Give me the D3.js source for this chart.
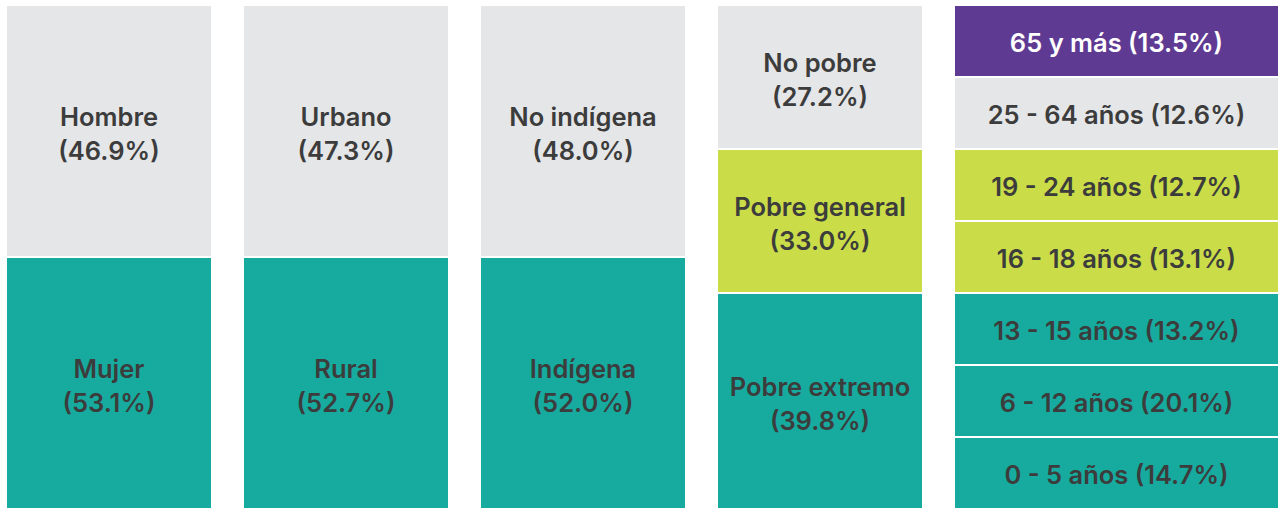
<!DOCTYPE html>
<html>
<head>
<meta charset="utf-8">
<script src="https://cdn.jsdelivr.net/npm/d3@7"></script>
<style>
  html, body { margin: 0; padding: 0; background: #fff; }
  svg { display: block; }
</style>
</head>
<body>
<div id="chart"></div>
<script>
// Data (each column listed top to bottom; rows = share of the 7-row grid the block takes)
const sexo = [
  { label: "Hombre", value: 46.9, tier: "alto", rows: 3.5 },
  { label: "Mujer", value: 53.1, tier: "bajo", rows: 3.5 }
];
const area = [
  { label: "Urbano", value: 47.3, tier: "alto", rows: 3.5 },
  { label: "Rural", value: 52.7, tier: "bajo", rows: 3.5 }
];
const etnia = [
  { label: "No indígena", value: 48.0, tier: "alto", rows: 3.5 },
  { label: "Indígena", value: 52.0, tier: "bajo", rows: 3.5 }
];
const pobreza = [
  { label: "No pobre", value: 27.2, tier: "alto", rows: 2 },
  { label: "Pobre general", value: 33.0, tier: "medio", rows: 2 },
  { label: "Pobre extremo", value: 39.8, tier: "bajo", rows: 3 }
];
const edad = [
  { label: "65 y más", value: 13.5, tier: "tope", rows: 1 },
  { label: "25 - 64 años", value: 12.6, tier: "alto", rows: 1 },
  { label: "19 - 24 años", value: 12.7, tier: "medio", rows: 1 },
  { label: "16 - 18 años", value: 13.1, tier: "medio", rows: 1 },
  { label: "13 - 15 años", value: 13.2, tier: "bajo", rows: 1 },
  { label: "6 - 12 años", value: 20.1, tier: "bajo", rows: 1 },
  { label: "0 - 5 años", value: 14.7, tier: "bajo", rows: 1 }
];
const columns = [sexo, area, etnia, pobreza, edad];

(function(){
  const width = 1282, height = 508;
  const top = 6, rowH = 72, gap = 2;
  const colW = 204, lastW = 323, colGap = 33, left = 7;

  const svg = d3.select("#chart").append("svg")
    .attr("width", width)
    .attr("height", height);

  const totalRows = d3.sum(columns[0], d => d.rows);
  const y = d3.scaleLinear()
    .domain([0, totalRows])
    .range([top, top + totalRows * rowH]);

  const color = d3.scaleOrdinal()
    .domain(["tope", "alto", "medio", "bajo"])
    .range(["#5f3a93", "#e5e6e8", "#cadc48", "#17ab9f"]);

  const fmt = d3.format(".1f");

  columns.forEach((col, ci) => {
    const wide = ci === columns.length - 1;
    const w = wide ? lastW : colW;
    const x0 = left + ci * (colW + colGap);

    let acc = 0;
    const segs = col.map(d => {
      const s = { ...d, r0: acc, r1: acc + d.rows };
      acc += d.rows;
      return s;
    });

    const g = svg.append("g").attr("transform", `translate(${x0},0)`);

    g.selectAll("rect")
      .data(segs)
      .join("rect")
      .attr("x", 0)
      .attr("y", d => y(d.r0))
      .attr("width", w)
      .attr("height", d => y(d.r1) - y(d.r0) - gap)
      .attr("fill", d => color(d.tier));

    const labels = g.selectAll("text")
      .data(segs)
      .join("text")
      .attr("text-anchor", "middle")
      .style("font-family", "Inter, 'Liberation Sans', sans-serif")
      .style("font-weight", "600")
      .style("font-size", "25.5px")
      .style("fill", d => d.tier === "tope" ? "#ffffff" : "#3c3c3c");

    labels.each(function(d) {
      const t = d3.select(this);
      const cy = (y(d.r0) + y(d.r1) - gap) / 2;
      const pct = `(${fmt(d.value)}%)`;
      if (wide) {
        t.append("tspan")
          .attr("x", w / 2)
          .attr("y", cy + 11)
          .text(`${d.label} ${pct}`);
      } else {
        t.append("tspan")
          .attr("x", w / 2)
          .attr("y", cy - 5)
          .text(d.label);
        t.append("tspan")
          .attr("x", w / 2)
          .attr("y", cy + 29)
          .text(pct);
      }
    });
  });
})();
</script>
</body>
</html>
